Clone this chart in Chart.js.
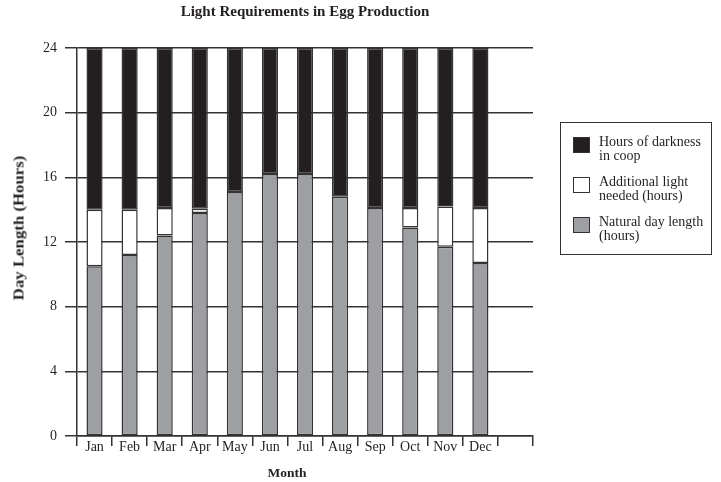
<!DOCTYPE html>
<html>
<head>
<meta charset="utf-8">
<script src="https://cdn.jsdelivr.net/npm/chart.js@4"></script>
<style>
  body { margin: 0; background: #fff; }
  #wrap { position: relative; width: 721px; height: 482px; font-family: "Liberation Serif", "DejaVu Serif", serif; color: #231f20; }
  canvas { position: absolute; left: 0; top: 0; }
  .title { position: absolute; font-weight: bold; white-space: nowrap; transform: translateX(-50%); }
  #ytitle { left: 19px; top: 228px; font-size: 15px; transform: translate(-50%, -50%) rotate(-90deg) scaleX(1.12); }
  #legend { position: absolute; left: 560px; top: 122px; width: 150px; height: 131px; border: 1.5px solid #333; font-size: 14px; line-height: 14.3px; }
  .item { position: absolute; left: 12px; display: flex; }
  .sw { width: 15px; height: 14px; border: 1.5px solid #333; margin-right: 9px; margin-top: 2px; flex: none; }
</style>
</head>
<body>
<div id="wrap">
  <canvas id="c" width="721" height="482"></canvas>
  <div class="title" style="left:305px; top:3px; font-size:15px;">Light Requirements in Egg Production</div>
  <div class="title" id="ytitle">Day Length (Hours)</div>
  <div class="title" style="left:287px; top:465px; font-size:13.5px;">Month</div>
  <div id="legend"></div>
</div>
<script>
// ── DATA ──
const months     = ['Jan', 'Feb', 'Mar', 'Apr', 'May', 'Jun', 'Jul', 'Aug', 'Sep', 'Oct', 'Nov', 'Dec', ''];
const naturalDay = [10.5, 11.2, 12.4, 13.8, 15.1, 16.2, 16.2, 14.8, 14.1, 12.9, 11.7, 10.7];
const additional = [3.5, 2.8, 1.7, 0.25, 0, 0, 0, 0, 0, 1.2, 2.5, 3.4];
const darkness   = [10.0, 10.0, 9.9, 9.95, 8.9, 7.8, 7.8, 9.2, 9.9, 9.9, 9.8, 9.9];
const yTicks     = [0, 4, 8, 12, 16, 20, 24];

const series = [
  { label: 'Natural day length (hours)',      lines: ['Natural day length', '(hours)'],   data: naturalDay, color: '#9e9fa3' },
  { label: 'Additional light needed (hours)', lines: ['Additional light', 'needed (hours)'], data: additional, color: '#ffffff' },
  { label: 'Hours of darkness in coop',       lines: ['Hours of darkness', 'in coop'],    data: darkness,   color: '#231f20' },
];

// ── LEGEND (html, reverse order) ──
const legend = document.getElementById('legend');
series.slice().reverse().forEach((s, i) => {
  const it = document.createElement('div');
  it.className = 'item';
  it.style.top = (12 + i * 40) + 'px';
  it.innerHTML = `<div class="sw" style="background:${s.color}"></div><div>${s.lines.join('<br>')}</div>`;
  legend.appendChild(it);
});

const AXIS = '#333333';
const font = { family: '"Liberation Serif", serif', size: 14 };

new Chart(document.getElementById('c'), {
  type: 'bar',
  data: {
    labels: months,
    datasets: series.map(s => ({
      label: s.label,
      data: s.data,
      backgroundColor: s.color,
      borderColor: AXIS,
      borderWidth: 1.5,
      borderSkipped: false,
      categoryPercentage: 1,
      barPercentage: 0.46,
    }))
  },
  options: {
    responsive: false,
    animation: false,
    layout: { padding: { top: 48, right: 188, left: 0, bottom: 0 } },
    plugins: { legend: { display: false }, tooltip: { enabled: false } },
    scales: {
      x: {
        stacked: true,
        offset: true,
        afterFit: s => { s.height = 46; },
        grid: {
          offset: true,
          color: c => c.index === months.length ? AXIS : 'transparent',
          tickColor: AXIS,
          lineWidth: 1.5,
          tickLength: 10,
        },
        border: { color: AXIS, width: 1.5 },
        ticks: { color: '#231f20', font, padding: -7, maxRotation: 0, autoSkip: false },
      },
      y: {
        stacked: true,
        min: 0, max: 24,
        afterFit: s => { s.width = 77; },
        afterBuildTicks: s => { s.ticks = yTicks.map(v => ({ value: v })); },
        grid: { color: AXIS, lineWidth: 1.5, tickLength: 12 },
        border: { color: AXIS, width: 1.5 },
        ticks: { color: '#231f20', font, padding: 8 },
      }
    }
  }
});
</script>
</body>
</html>
